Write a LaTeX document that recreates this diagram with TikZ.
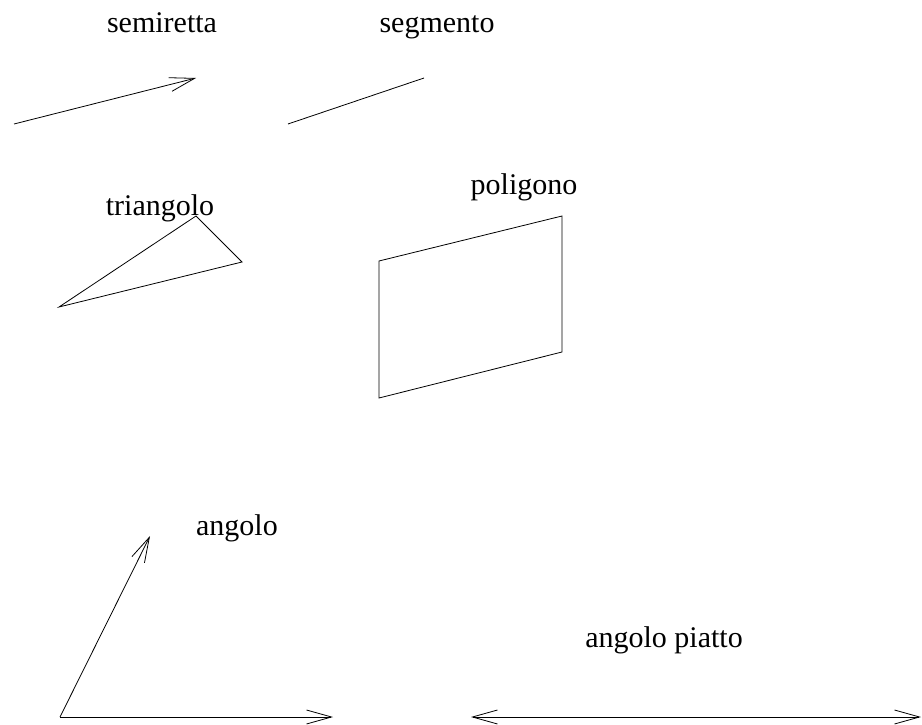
\documentclass[tikz,border=0pt]{standalone}
\usepackage{fontspec}
\setmainfont{Liberation Serif}
\usetikzlibrary{arrows.meta}

\begin{document}
\begin{tikzpicture}[x=1pt, y=-1pt, line width=0.8pt,
	every node/.style={font=\fontsize{30}{36}\selectfont, anchor=base, inner sep=0pt},
	barb/.style={-{Straight Barb[length=25pt, width=14pt]}},
	twobarb/.style={{Straight Barb[length=25pt, width=14pt]}-{Straight Barb[length=25pt, width=14pt]}}]
	\useasboundingbox (0,0) rectangle (922,725);
	% labels
	\node (semiretta) at (162,33) {semiretta};
	\node (segmento) at (437,33) {segmento};
	\node (triangolo) at (160,215) {triangolo};
	\node (poligono) at (524,194) {poligono};
	\node (angolo) at (237,535) {angolo};
	\node (piatto) at (664,647) {angolo piatto};
	% semiretta and segmento
	\coordinate (r1) at (14,124); \coordinate (r2) at (196,78);
	\coordinate (s1) at (288,124); \coordinate (s2) at (424,78);
	\draw[barb] (r1) -- (r2);
	\draw (s1) -- (s2);
	% triangolo and poligono
	\coordinate (t1) at (196,216); \coordinate (t2) at (242,262); \coordinate (t3) at (59,307);
	\draw (t1) -- (t2) -- (t3) -- cycle;
	\coordinate (p1) at (379,261); \coordinate (p2) at (562,216);
	\coordinate (p3) at (562,352); \coordinate (p4) at (379,398);
	\draw (p1) -- (p2) -- (p3) -- (p4) -- cycle;
	% angolo
	\coordinate (v) at (60,717); \coordinate (a1) at (150,536); \coordinate (a2) at (333,717);
	\draw[barb] (v) -- (a1);
	\draw[barb] (v) -- (a2);
	% angolo piatto
	\coordinate (f1) at (471,717); \coordinate (f2) at (921,717);
	\draw[twobarb] (f1) -- (f2);
\end{tikzpicture}
\end{document}
